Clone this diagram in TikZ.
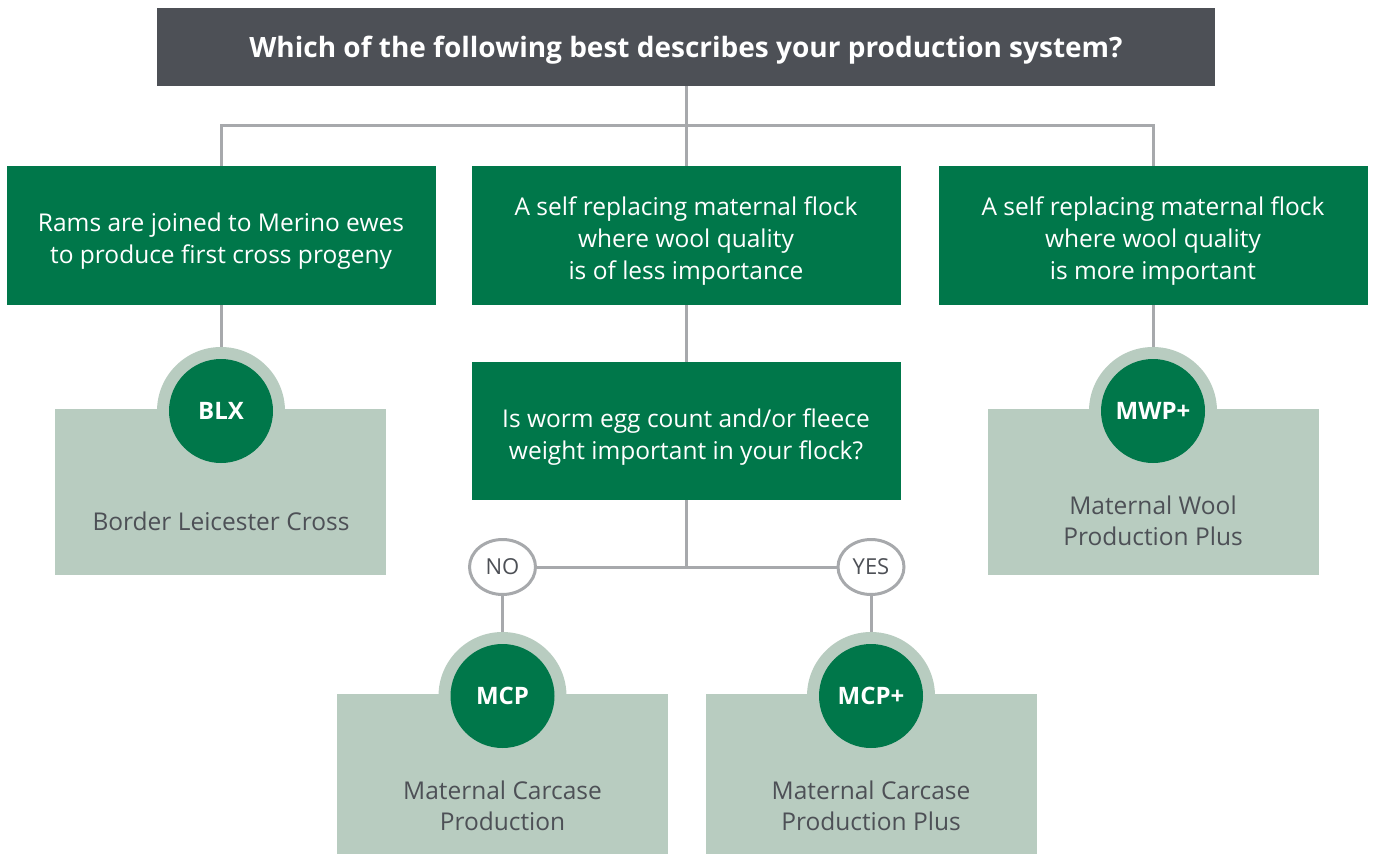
\documentclass[tikz,border=0pt]{standalone}
\usepackage{fontspec}
\setmainfont{Open Sans}
\usetikzlibrary{shapes.geometric}
\definecolor{slate}{HTML}{4D5056}
\definecolor{leaf}{HTML}{00774A}
\definecolor{sage}{HTML}{B8CCC0}
\definecolor{wiregray}{HTML}{A7A9AC}

\begin{document}
\begin{tikzpicture}[x=1pt,y=-1pt,
  question/.style={fill=leaf, minimum width=429pt, minimum height=139pt},
  qtext/.style={text=white, align=center, font=\fontsize{24.5}{32}\selectfont},
  card/.style={fill=sage, minimum width=331pt, minimum height=166pt},
  ring/.style={circle, fill=sage, minimum size=128pt, inner sep=0pt},
  badge/.style={circle, fill=leaf, text=white, minimum size=104pt, inner sep=0pt, font=\fontsize{24}{28}\selectfont\bfseries},
  answer/.style={text=slate, align=center, font=\fontsize{24.5}{31}\selectfont},
  choice/.style={ellipse, draw=wiregray, line width=3pt, fill=white, minimum width=66pt, minimum height=55pt, inner sep=0pt, text=slate, font=\fontsize{22}{24}\selectfont},
  wire/.style={draw=wiregray, line width=3pt}]
\useasboundingbox (0,0) rectangle (1373,854);
% question boxes
\node[fill=slate, minimum width=1058pt, minimum height=78pt] (title) at (686,47) {};
\node[text=white, font=\fontsize{28}{30}\selectfont\bfseries] (titletext) at (686,50) {Which of the following best describes your production system?};
\node[question] (q1) at (221,235.5) {}; \node[qtext] (q1text) at (221,241) {Rams are joined to Merino ewes\\to produce first cross progeny};
\node[question] (q2) at (686,235.5) {}; \node[qtext] (q2text) at (686,241) {A self replacing maternal flock\\where wool quality\\is of less importance};
\node[question] (q3) at (1153,235.5) {}; \node[qtext] (q3text) at (1153,241) {A self replacing maternal flock\\where wool quality\\is more important};
\node[question, minimum height=138pt] (q4) at (686,431) {}; \node[qtext] (q4text) at (686,437) {Is worm egg count and/or fleece\\weight important in your flock?};
\node[choice] (no) at (502.5,567) {NO};
\node[choice] (yes) at (871,567) {YES};
% outcome cards
\node[ring] (blxring) at (221,411) {}; \node[card] (blxcard) at (220.5,492) {};
\node[ring] (mwpring) at (1153,411) {}; \node[card] (mwpcard) at (1153,492) {};
\node[ring] (mcpring) at (502.5,696) {}; \node[card, minimum height=160pt] (mcpcard) at (502.5,773.5) {};
\node[ring] (mcpplusring) at (871,696) {}; \node[card, minimum height=160pt] (mcppluscard) at (871,773.5) {};
\node[badge] (blx) at (blxring) {BLX};
\node[badge] (mwp) at (mwpring) {MWP+};
\node[badge] (mcp) at (mcpring) {MCP};
\node[badge] (mcpplus) at (mcpplusring) {MCP+};
\node[answer] (blxtext) at (221,521) {Border Leicester Cross};
\node[answer] (mwptext) at (1153,521) {Maternal Wool\\Production Plus};
\node[answer] (mcptext) at (502.5,806) {Maternal Carcase\\Production};
\node[answer] (mcpplustext) at (871,806) {Maternal Carcase\\Production Plus};
% connectors
\coordinate (fork) at (686,125); \coordinate (split) at (686,567);
\draw[wire] (title.south) -- (q2.north);
\draw[wire] (q1.north) |- (fork) -| (q3.north);
\draw[wire] (q1.south) -- (blxring.north);
\draw[wire] (q3.south) -- (mwpring.north);
\draw[wire] (q2.south) -- (q4.north);
\draw[wire] (q4.south) -- (split);
\draw[wire] (no.east) -- (yes.west);
\draw[wire] (no.south) -- (mcpring.north);
\draw[wire] (yes.south) -- (mcpplusring.north);
\end{tikzpicture}
\end{document}
